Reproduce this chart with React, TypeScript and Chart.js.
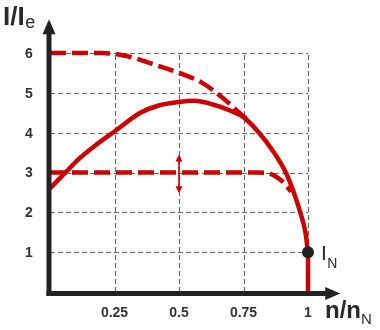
import React, { useEffect, useRef } from "react";
import { Chart, registerables } from "chart.js";

Chart.register(...registerables);

// ---- data ----
const xTicks = [0.25, 0.5, 0.75, 1];
const xTickLabels = ["0.25", "0.5", "0.75", "1"];
const yTicks = [1, 2, 3, 4, 5, 6];
const yTickLabels = ["1", "2", "3", "4", "5", "6"];

// solid current curve I/Ie vs n/nN (up to the rated point)
const currentX = [0, 0.06, 0.105, 0.18, 0.25, 0.35, 0.415, 0.5, 0.56, 0.625, 0.7, 0.75, 0.81, 0.86, 0.914, 0.945, 0.97, 0.99, 1.0];
const currentY = [2.6, 3.0, 3.3, 3.7, 4.03, 4.5, 4.67, 4.77, 4.8, 4.72, 4.55, 4.39, 4.0, 3.58, 3.0, 2.5, 2.0, 1.5, 1.0];
// vertical part below the rated point
const tailX = [1.0, 1.0];
const tailY = [1.0, 0];

// upper dashed curve
const upperX = [0, 0.2, 0.3, 0.4, 0.5, 0.59, 0.645, 0.69, 0.73, 0.77];
const upperY = [6, 6, 5.92, 5.72, 5.5, 5.25, 5.0, 4.76, 4.52, 4.3];

// lower dashed curve
const lowerX = [0, 0.4, 0.8, 0.84, 0.87, 0.9, 0.935];
const lowerY = [3, 3, 3, 2.99, 2.92, 2.78, 2.52];

// rated point
const ratedX = [1];
const ratedY = [1];

// double arrow (adjustment range)
const arrowX = 0.5;
const arrowFrom = 2.48;
const arrowTo = 3.45;

const gridMaxX = 1;
const gridMaxY = 6;
const axisEndX = 1.125;
const axisEndY = 6.85;

const RED = "#cc0000";
const DARK = "#222222";
const FONT = 'Arial, "Liberation Sans", sans-serif';

const toPts = (xs: number[], ys: number[]) => xs.map((x, i) => ({ x, y: ys[i] }));

const decor = {
  id: "decor",
  beforeDatasetsDraw(chart: any) {
    const { ctx, scales } = chart;
    const x = scales.x;
    const y = scales.y;
    ctx.save();
    ctx.strokeStyle = "#6a6a6a";
    ctx.lineWidth = 1.2;
    ctx.setLineDash([5, 3]);
    const y0 = y.getPixelForValue(0);
    const yTop = y.getPixelForValue(gridMaxY);
    const x0 = x.getPixelForValue(0);
    const xRight = x.getPixelForValue(gridMaxX);
    for (const v of xTicks) {
      const px = Math.round(x.getPixelForValue(v)) + 0.5;
      ctx.beginPath();
      ctx.moveTo(px, y0);
      ctx.lineTo(px, yTop);
      ctx.stroke();
    }
    for (const v of yTicks) {
      const py = Math.round(y.getPixelForValue(v)) + 0.5;
      ctx.beginPath();
      ctx.moveTo(x0, py);
      ctx.lineTo(xRight, py);
      ctx.stroke();
    }
    ctx.restore();
  },
  afterDatasetsDraw(chart: any) {
    const { ctx, scales } = chart;
    const x = scales.x;
    const y = scales.y;
    const x0 = x.getPixelForValue(0) - 1;
    const y0 = y.getPixelForValue(0) + 1.5;
    const yTip = y.getPixelForValue(axisEndY);
    const xTip = x.getPixelForValue(axisEndX);
    ctx.save();
    ctx.setLineDash([]);
    // axes
    ctx.strokeStyle = DARK;
    ctx.fillStyle = DARK;
    ctx.lineWidth = 5;
    ctx.lineCap = "butt";
    ctx.beginPath();
    ctx.moveTo(x0, y0 + 2.5);
    ctx.lineTo(x0, yTip + 12);
    ctx.stroke();
    ctx.beginPath();
    ctx.moveTo(x0 - 2.5, y0);
    ctx.lineTo(xTip - 12, y0);
    ctx.stroke();
    ctx.beginPath();
    ctx.moveTo(x0, yTip);
    ctx.lineTo(x0 - 6.5, yTip + 15);
    ctx.lineTo(x0 + 6.5, yTip + 15);
    ctx.closePath();
    ctx.fill();
    ctx.beginPath();
    ctx.moveTo(xTip, y0);
    ctx.lineTo(xTip - 15, y0 - 6.5);
    ctx.lineTo(xTip - 15, y0 + 6.5);
    ctx.closePath();
    ctx.fill();

    // red double arrow
    const ax = x.getPixelForValue(arrowX);
    const ay1 = y.getPixelForValue(arrowTo);
    const ay2 = y.getPixelForValue(arrowFrom);
    ctx.strokeStyle = RED;
    ctx.fillStyle = RED;
    ctx.lineWidth = 1.6;
    ctx.beginPath();
    ctx.moveTo(ax, ay1 + 4);
    ctx.lineTo(ax, ay2 - 4);
    ctx.stroke();
    ctx.beginPath();
    ctx.moveTo(ax, ay1);
    ctx.lineTo(ax - 3.5, ay1 + 7);
    ctx.lineTo(ax + 3.5, ay1 + 7);
    ctx.closePath();
    ctx.fill();
    ctx.beginPath();
    ctx.moveTo(ax, ay2);
    ctx.lineTo(ax - 3.5, ay2 - 7);
    ctx.lineTo(ax + 3.5, ay2 - 7);
    ctx.closePath();
    ctx.fill();

    // tick labels
    ctx.fillStyle = "#333333";
    ctx.font = `bold 14px ${FONT}`;
    ctx.textBaseline = "middle";
    ctx.textAlign = "center";
    yTicks.forEach((v, i) => {
      ctx.fillText(yTickLabels[i], 29, y.getPixelForValue(v) + 1);
    });
    xTicks.forEach((v, i) => {
      ctx.fillText(xTickLabels[i], x.getPixelForValue(v), 313);
    });

    // axis titles
    ctx.textAlign = "left";
    ctx.textBaseline = "alphabetic";
    ctx.fillStyle = "#2a2a2a";
    ctx.font = `bold 26px ${FONT}`;
    ctx.fillText("I/I", 3, 25);
    let w = ctx.measureText("I/I").width;
    ctx.font = `18px ${FONT}`;
    ctx.fillText("e", 3 + w + 0.5, 28);

    ctx.font = `bold 24px ${FONT}`;
    ctx.fillText("n/n", 325, 318);
    w = ctx.measureText("n/n").width;
    ctx.font = `15px ${FONT}`;
    ctx.fillText("N", 325 + w, 324);

    // I_N label
    ctx.font = `21px ${FONT}`;
    ctx.fillText("I", 321, 260);
    w = ctx.measureText("I").width;
    ctx.font = `14px ${FONT}`;
    ctx.fillText("N", 321 + w + 0.5, 268);
    ctx.restore();
  },
};

export default function App() {
  const ref = useRef<HTMLCanvasElement | null>(null);
  useEffect(() => {
    if (!ref.current) return;
    const chart = new Chart(ref.current, {
      type: "line",
      data: {
        datasets: [
          {
            label: "rated",
            data: toPts(ratedX, ratedY),
            showLine: false,
            pointRadius: 6,
            pointBackgroundColor: DARK,
            pointBorderColor: DARK,
            pointBorderWidth: 0,
            clip: false,
          } as any,
          {
            label: "current",
            data: toPts(currentX, currentY),
            borderColor: RED,
            borderWidth: 4.5,
            pointRadius: 0,
            cubicInterpolationMode: "monotone",
            fill: false,
            clip: false,
          },
          {
            label: "current-tail",
            data: toPts(tailX, tailY),
            borderColor: RED,
            borderWidth: 4.5,
            pointRadius: 0,
            tension: 0,
            fill: false,
            clip: false,
          },
          {
            label: "upper",
            data: toPts(upperX, upperY),
            borderColor: RED,
            borderWidth: 4.5,
            borderDash: [16, 6],
            borderCapStyle: "butt",
            pointRadius: 0,
            cubicInterpolationMode: "monotone",
            fill: false,
            clip: false,
          },
          {
            label: "lower",
            data: toPts(lowerX, lowerY),
            borderColor: RED,
            borderWidth: 4.5,
            borderDash: [16, 6],
            borderCapStyle: "butt",
            pointRadius: 0,
            cubicInterpolationMode: "monotone",
            fill: false,
            clip: false,
          },
        ],
      },
      options: {
        responsive: false,
        animation: false,
        devicePixelRatio: 1,
        layout: { padding: { left: 50, right: 72, top: 53, bottom: 38 } },
        plugins: { legend: { display: false }, tooltip: { enabled: false } },
        elements: { line: { capBezierPoints: false } },
        scales: {
          x: { type: "linear", min: 0, max: gridMaxX, display: false },
          y: { type: "linear", min: 0, max: gridMaxY, display: false },
        },
      },
      plugins: [decor],
    });
    return () => chart.destroy();
  }, []);
  return (
    <div style={{ position: "fixed", left: 0, top: 0, width: 380, height: 330, background: "#fff" }}>
      <canvas ref={ref} width={380} height={330} style={{ display: "block" }} />
    </div>
  );
}
